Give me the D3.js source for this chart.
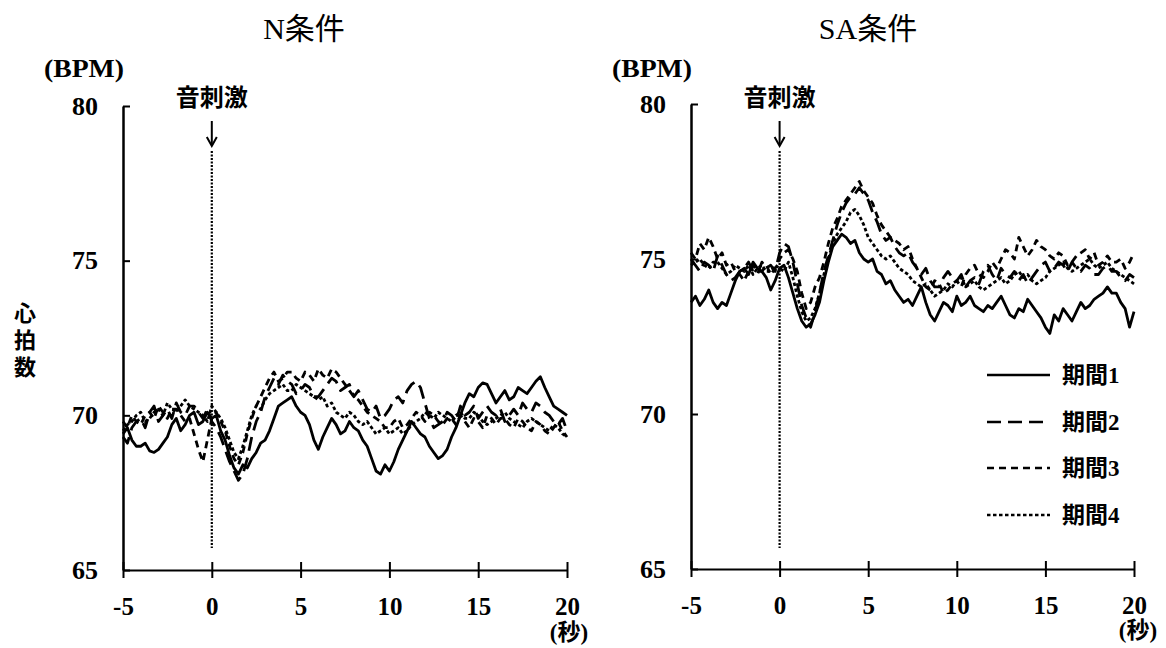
<!DOCTYPE html>
<html><head><meta charset="utf-8">
<script src="https://cdn.jsdelivr.net/npm/d3@7"></script>
<style>body{margin:0;background:#fff} svg{display:block}</style>
</head><body><svg id="chart" width="1166" height="648"></svg>
<script>
// Sampling grid (seconds relative to the sound stimulus), 0.25 s steps
const seconds = d3.range(-5, 20.001, 0.25);
const periodNames = ["期間1", "期間2", "期間3", "期間4"];
const xTicks = [-5, 0, 5, 10, 15, 20];
const yTicks = [65, 70, 75, 80];

// N条件 — mean heart rate (BPM) per period
const nPeriod1 = [69.4,69.6,69.2,69.0,69.0,69.1,68.85,68.8,68.9,69.1,69.3,69.7,69.9,69.5,69.7,70.0,70.1,69.7,69.8,70.1,69.9,70.0,69.5,69.2,68.7,68.3,68.1,68.4,68.3,68.6,68.8,69.1,69.2,69.5,69.9,70.3,70.4,70.5,70.6,70.3,70.1,70.0,69.7,69.2,68.9,69.3,69.6,69.9,69.7,69.4,69.5,69.8,69.6,69.5,69.2,69.0,68.6,68.2,68.1,68.4,68.2,68.5,68.9,69.2,69.5,69.8,69.6,69.4,69.3,69.0,68.8,68.6,68.7,68.9,69.3,69.6,70.0,70.4,70.7,70.6,70.9,71.05,71.0,70.7,70.4,70.6,70.8,70.5,70.6,70.9,70.8,70.7,70.9,71.1,71.25,70.9,70.6,70.3,70.2,70.1,70.0];
const nPeriod2 = [69.3,69.1,69.6,69.8,69.9,69.6,70.1,70.3,69.8,70.0,70.2,69.9,70.4,70.1,70.0,70.3,70.3,70.1,69.9,70.2,69.8,69.6,69.3,68.9,68.5,68.2,67.9,68.1,68.6,69.3,69.8,70.1,70.6,70.9,71.2,71.0,71.3,71.1,71.0,70.7,70.8,71.0,70.9,70.6,70.6,70.8,71.0,71.2,71.1,70.8,70.9,71.0,70.6,70.8,70.5,70.2,70.1,70.3,69.9,70.0,70.2,70.5,70.6,70.4,70.8,71.0,71.1,70.9,70.4,69.9,69.6,69.7,69.8,70.1,70.0,69.8,70.3,70.0,70.1,70.3,69.9,70.1,70.3,70.1,70.0,70.2,69.8,70.0,70.2,70.0,70.4,70.2,70.1,70.4,70.3,70.1,70.0,69.8,69.7,69.9,69.5];
const nPeriod3 = [69.8,69.6,70.0,69.8,69.7,70.0,70.1,69.9,70.3,70.1,69.9,70.2,70.2,70.0,69.8,69.9,69.4,68.9,68.5,69.2,69.9,70.1,69.8,69.5,69.0,68.6,68.4,68.8,69.4,69.9,70.3,70.6,70.9,71.2,71.4,71.1,71.2,71.4,71.4,71.2,71.1,71.4,71.3,71.1,71.5,71.3,71.2,71.5,71.4,71.2,71.0,70.8,70.6,70.5,70.3,70.1,70.0,69.9,69.8,69.6,69.6,69.8,69.9,69.6,69.7,69.9,70.1,70.0,69.8,70.1,70.0,69.8,69.7,69.9,69.9,69.7,70.0,69.8,69.6,69.9,69.8,69.6,70.0,69.9,69.7,69.9,69.9,69.7,69.6,69.9,69.8,69.6,69.5,69.8,69.7,69.5,69.4,69.6,69.8,69.5,69.3];
const nPeriod4 = [69.5,69.7,69.8,70.0,70.1,69.8,69.9,70.1,70.2,70.0,70.4,70.2,70.1,70.3,70.5,70.3,70.2,70.1,70.0,69.8,70.3,70.1,69.9,69.6,69.2,68.8,68.6,69.0,69.5,70.0,70.3,70.2,70.5,70.7,70.8,70.9,71.0,70.8,70.8,71.0,70.9,70.8,70.7,70.6,70.5,70.6,70.3,70.4,70.1,70.0,69.9,70.1,70.0,69.8,69.7,69.8,69.6,69.4,69.5,69.6,69.4,69.5,69.6,69.4,69.5,69.7,69.8,69.9,70.1,70.0,69.9,70.1,70.0,69.9,69.8,70.0,70.1,69.9,69.9,70.1,70.0,69.8,69.7,69.8,69.9,70.0,70.1,69.9,69.8,69.7,69.6,69.8,69.9,69.8,69.7,69.6,69.5,69.7,69.6,69.4,69.3];

// SA条件 — mean heart rate (BPM) per period
const saPeriod1 = [73.6,73.8,73.5,73.7,74.0,73.6,73.4,73.6,73.5,73.9,74.3,74.6,74.7,74.5,74.9,74.7,74.6,74.4,74.0,74.3,74.7,74.8,74.4,73.9,73.4,73.0,72.8,72.9,73.2,73.6,74.3,74.9,75.4,75.6,75.8,75.7,75.5,75.6,75.2,75.0,74.9,75.0,74.6,74.5,74.2,74.3,74.0,73.8,73.6,73.7,73.5,73.8,74.1,73.6,73.2,73.0,73.3,73.6,73.5,73.3,73.8,73.5,73.6,73.8,73.5,73.4,73.3,73.5,73.4,73.6,73.8,73.5,73.2,73.1,73.4,73.3,73.7,73.5,73.3,73.1,72.8,72.6,73.2,73.0,73.4,73.2,73.0,73.3,73.6,73.4,73.5,73.7,73.8,73.9,74.1,73.9,73.9,73.6,73.4,72.8,73.3];
const saPeriod2 = [75.0,74.8,74.6,74.9,74.8,74.6,75.1,74.8,74.5,74.3,74.4,74.6,74.7,74.9,74.6,74.5,74.9,74.7,74.8,74.6,75.2,75.5,75.4,74.9,74.2,73.5,73.1,72.8,73.3,73.9,74.6,75.1,75.6,76.1,76.5,76.8,77.0,77.1,77.3,77.1,76.9,76.5,76.2,75.8,75.6,75.7,75.4,75.2,75.1,75.2,74.9,74.7,74.5,74.7,74.3,74.1,74.1,74.4,74.6,74.4,74.3,74.5,74.1,74.3,74.4,74.2,74.6,74.8,74.5,74.3,74.7,74.5,74.4,74.6,74.3,74.5,74.2,74.4,74.6,74.8,74.9,74.6,74.7,74.9,74.8,74.6,74.9,74.7,74.6,74.8,74.7,74.5,74.5,74.7,74.8,74.6,74.6,74.4,74.3,74.5,74.4];
const saPeriod3 = [75.2,75.0,75.5,75.3,75.7,75.4,75.0,75.2,74.8,74.9,74.6,74.5,74.3,74.6,74.8,74.6,74.6,74.8,74.5,74.7,75.0,75.2,75.3,75.0,74.6,73.9,73.4,73.6,74.1,74.4,74.9,75.5,76.0,76.3,76.7,76.9,77.1,77.3,77.5,77.2,77.0,76.8,76.4,76.1,75.9,75.7,75.6,75.5,75.3,75.4,75.0,74.7,74.4,74.1,74.0,74.3,74.2,73.9,74.0,74.2,74.3,74.1,74.5,74.7,74.8,74.5,74.4,74.6,74.9,74.7,75.0,75.3,75.2,75.0,75.7,75.4,75.1,75.3,75.6,75.4,75.3,75.1,75.0,75.2,75.1,74.8,74.9,75.1,75.2,75.3,75.0,75.2,74.8,74.9,75.1,74.9,74.9,75.0,74.7,74.9,75.2];
const saPeriod4 = [74.8,74.9,75.0,74.8,74.7,74.9,74.9,74.7,74.5,74.6,74.8,74.7,74.6,74.8,74.5,74.7,74.8,74.6,74.6,74.8,74.7,74.6,74.9,74.4,73.8,73.3,73.0,73.1,73.4,73.9,74.5,75.0,75.5,75.8,76.0,76.2,76.5,76.6,76.4,76.1,75.7,75.5,75.3,75.1,75.0,75.1,74.9,74.7,74.6,74.5,74.3,74.2,74.1,74.2,74.0,73.8,73.9,74.0,74.2,74.1,74.3,74.4,74.1,74.2,74.3,74.1,74.0,74.1,74.2,74.3,74.4,74.2,74.3,74.5,74.6,74.4,74.5,74.3,74.2,74.3,74.4,74.6,74.7,74.8,74.9,74.7,74.6,74.7,74.8,74.9,75.0,74.8,74.7,74.8,74.9,74.7,74.6,74.5,74.4,74.3,74.2];

// Line style for each period
const dashes = [null, "14,7", "7,5", "3.5,2.5"];

const svg = d3.select("#chart");
const serif = "'Liberation Serif', 'Noto Sans CJK JP', serif";
const cjk = "'Noto Sans CJK JP', sans-serif";

const panels = [
  { title: "N条件", titleX: 304, series: [nPeriod1, nPeriod2, nPeriod3, nPeriod4],
    left: 123, right: 567, bottom: 570, top: 106, bpmX: 84, unitX: 569, unitY: 640, legend: false },
  { title: "SA条件", titleX: 868, series: [saPeriod1, saPeriod2, saPeriod3, saPeriod4],
    left: 691, right: 1134, bottom: 569, top: 104, bpmX: 652, unitX: 1138, unitY: 638, legend: true }
];

panels.forEach(p => {
  const x = d3.scaleLinear().domain([-5, 20]).range([p.left, p.right]);
  const y = d3.scaleLinear().domain([65, 80]).range([p.bottom, p.top]);
  const g = svg.append("g");

  // title
  g.append("text").attr("x", p.titleX).attr("y", 39).attr("text-anchor", "middle")
    .attr("font-family", serif).attr("font-size", 30).text(p.title);

  // unit label (BPM)
  g.append("text").attr("x", p.bpmX).attr("y", 77).attr("text-anchor", "middle")
    .attr("font-family", serif).attr("font-size", 25).attr("font-weight", "bold")
    .attr("textLength", 80).attr("lengthAdjust", "spacingAndGlyphs").text("(BPM)");

  // y axis, ticks pointing into the plot
  const yAxis = g.append("g").attr("transform", `translate(${p.left},0)`)
    .call(d3.axisLeft(y).tickValues(yTicks).tickSizeInner(-7).tickSizeOuter(0).tickPadding(25));
  yAxis.select(".domain").attr("stroke", "#000").attr("stroke-width", 2.5);
  yAxis.selectAll(".tick line").attr("stroke", "#000").attr("stroke-width", 2);
  yAxis.selectAll(".tick text").attr("font-family", serif).attr("font-size", 26)
    .attr("font-weight", "bold").attr("fill", "#000");

  // x axis, ticks crossing the line
  const xAxis = g.append("g").attr("transform", `translate(0,${p.bottom})`)
    .call(d3.axisBottom(x).tickValues(xTicks).tickSizeInner(8).tickSizeOuter(0).tickPadding(19).tickFormat(d3.format("d")));
  xAxis.select(".domain").attr("stroke", "#000").attr("stroke-width", 2);
  xAxis.selectAll(".tick line").attr("y1", -8).attr("stroke", "#000").attr("stroke-width", 2);
  xAxis.selectAll(".tick text").attr("font-family", serif).attr("font-size", 25)
    .attr("font-weight", "bold").attr("fill", "#000").text(d => d < 0 ? "-" + Math.abs(d) : d);

  // seconds unit
  g.append("text").attr("x", p.unitX).attr("y", p.unitY).attr("text-anchor", "middle")
    .attr("font-family", serif).attr("font-size", 23).attr("font-weight", "bold").text("(秒)");

  // stimulus marker
  g.append("text").attr("x", x(0)).attr("y", 106).attr("text-anchor", "middle")
    .attr("font-family", cjk).attr("font-size", 24).attr("font-weight", "bold").text("音刺激");
  g.append("line").attr("x1", x(0)).attr("x2", x(0)).attr("y1", 121).attr("y2", 145)
    .attr("stroke", "#000").attr("stroke-width", 2);
  g.append("path").attr("d", `M${x(0) - 5},${137} L${x(0)},${146} L${x(0) + 5},${137}`)
    .attr("fill", "none").attr("stroke", "#000").attr("stroke-width", 2);
  g.append("line").attr("x1", x(0)).attr("x2", x(0)).attr("y1", 151).attr("y2", 548)
    .attr("stroke", "#000").attr("stroke-width", 2.2).attr("stroke-dasharray", "2,1.5");

  // period curves
  const line = d3.line().x((d, i) => x(seconds[i])).y(d => y(d)).curve(d3.curveLinear);
  p.series.forEach((s, k) => {
    g.append("path").datum(s).attr("d", line).attr("fill", "none").attr("stroke", "#000")
      .attr("stroke-width", 2.8).attr("stroke-linejoin", "round")
      .attr("stroke-dasharray", dashes[k]);
  });

  // legend
  if (p.legend) {
    const ly = [375, 422, 468, 515];
    periodNames.forEach((name, k) => {
      g.append("line").attr("x1", 987).attr("x2", 1050).attr("y1", ly[k]).attr("y2", ly[k])
        .attr("stroke", "#000").attr("stroke-width", 2.4).attr("stroke-dasharray", dashes[k]);
      g.append("text").attr("x", 1062).attr("y", ly[k]).attr("dy", "0.35em")
        .attr("font-family", serif).attr("font-size", 23).attr("font-weight", "bold").text(name);
    });
  }
});

// shared y label, set vertically
svg.append("text").attr("x", 25).attr("y", 302)
  .style("writing-mode", "vertical-rl").attr("font-family", cjk).attr("font-size", 22)
  .attr("font-weight", "bold").attr("letter-spacing", 5).text("心拍数");
</script></body></html>
